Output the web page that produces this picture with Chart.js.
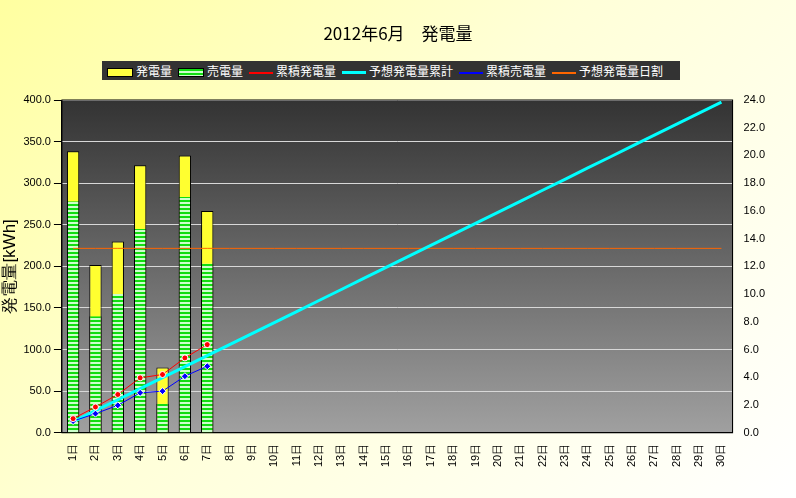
<!DOCTYPE html>
<html><head><meta charset="utf-8">
<script src="https://cdn.jsdelivr.net/npm/chart.js@4.4.0/dist/chart.umd.min.js"></script>
<style>
body{margin:0;width:796px;height:498px;overflow:hidden;font-family:"Noto Sans CJK JP",sans-serif;
 background:linear-gradient(135deg,#ffffa0 0%,#ffffd8 45%,#ffffff 100%);}
#wrap{position:absolute;left:0;top:0;width:796px;height:498px}
#title{position:absolute;top:20px;left:0;width:796px;text-align:center;font-size:17px;color:#000}
#legend{position:absolute;left:102px;top:61px;width:578px;height:19px;background:#333;color:#fff;font-size:12px;display:flex;align-items:center;gap:6px;padding-left:5px;box-sizing:border-box;white-space:nowrap}
#legend span.k{display:inline-block;vertical-align:middle;margin-right:3px}
</style></head><body>
<div id="wrap"><canvas id="c" width="796" height="498"></canvas></div>
<div id="title">2012年6月　発電量</div>
<div id="legend">
 <span><span class="k" style="width:24px;height:7px;background:#ffff40;border:1px solid #000"></span>発電量</span>
 <span><span class="k" style="width:24px;height:7px;background:repeating-linear-gradient(#11dd11 0 2px,#ccffcc 2px 4px);border:1px solid #000"></span>売電量</span>
 <span><span class="k" style="width:24px;height:2px;background:#f00;position:relative"></span>累積発電量</span>
 <span><span class="k" style="width:24px;height:3px;background:#00ffff"></span>予想発電量累計</span>
 <span><span class="k" style="width:24px;height:2px;background:#00f"></span>累積売電量</span>
 <span><span class="k" style="width:24px;height:2px;background:#ff6600"></span>予想発電量日割</span>
</div>
<script>
const days = Array.from({length:30},(_, i)=>(i+1)+"日");
const generated = [20.3,12.1,13.8,19.3,4.7,20.0,16.0];
const sold = [16.7,8.4,10.0,14.7,2.1,17.0,12.2];
const cumGenerated = [17,31,46,66,70,90,106];
const cumSold = [14,23,33,48,50,68,80];
const forecastCum = [13.2,26.5,39.7,53.0,66.2,79.5,92.7,106.0,119.2,132.5,145.7,159.0,172.2,185.5,198.7,212.0,225.2,238.5,251.7,265.0,278.2,291.5,304.7,318.0,331.2,344.5,357.7,371.0,384.2,397.5];
const forecastDaily = [13.3,13.3,13.3,13.3,13.3,13.3,13.3,13.3,13.3,13.3,13.3,13.3,13.3,13.3,13.3,13.3,13.3,13.3,13.3,13.3,13.3,13.3,13.3,13.3,13.3,13.3,13.3,13.3,13.3,13.3];

const pc=document.createElement("canvas");pc.width=4;pc.height=4;
const px=pc.getContext("2d");px.fillStyle="#11dd11";px.fillRect(0,0,4,2);px.fillStyle="#ccffcc";px.fillRect(0,2,4,2);
const stripes=document.getElementById("c").getContext("2d").createPattern(pc,"repeat");

const plotBg={id:"plotBg",beforeDraw(ch){const a=ch.chartArea,c=ch.ctx;
 const g=c.createLinearGradient(0,a.top,0,a.bottom);g.addColorStop(0,"#333333");g.addColorStop(1,"#a0a0a0");
 c.save();c.fillStyle=g;c.fillRect(a.left,a.top,a.right-a.left,a.bottom-a.top);c.restore();},
 afterDraw(ch){const a=ch.chartArea,c=ch.ctx;c.save();c.strokeStyle="#000";c.lineWidth=1;c.strokeRect(a.left,a.top,a.right-a.left,a.bottom-a.top);c.restore();}};

new Chart(document.getElementById("c"),{
 data:{labels:days,datasets:[
  {type:"line",data:cumGenerated,yAxisID:"y",borderColor:"#ff0000",borderWidth:1,pointRadius:3,pointBackgroundColor:"#ff0000",pointBorderColor:"#fff",pointBorderWidth:1,order:0},
  {type:"line",data:cumSold,yAxisID:"y",borderColor:"#0000ff",borderWidth:1,pointStyle:"rectRot",pointRadius:3.5,pointBackgroundColor:"#0000ff",pointBorderColor:"#fff",pointBorderWidth:1,order:0},
  {type:"line",data:forecastCum,yAxisID:"y",borderColor:"#00ffff",borderWidth:3,pointRadius:0,order:1},
  {type:"line",data:forecastDaily,yAxisID:"y2",borderColor:"#ff6600",borderWidth:1,pointRadius:0,order:1},
  {type:"bar",data:sold,yAxisID:"y2",backgroundColor:stripes,borderColor:"#000",borderWidth:{left:1,right:1,top:0,bottom:0},grouped:false,barPercentage:0.55,categoryPercentage:1,order:2},
  {type:"bar",data:generated,yAxisID:"y2",backgroundColor:"#ffff30",borderColor:"#000",borderWidth:1,grouped:false,barPercentage:0.55,categoryPercentage:1,order:3}
 ]},
 options:{responsive:false,animation:false,
  layout:{padding:{top:100,right:28,left:0,bottom:28}},
  plugins:{legend:{display:false},tooltip:{enabled:false}},
  scales:{
   x:{offset:true,grid:{display:false},border:{color:"#000"},ticks:{color:"#000",font:{size:11},maxRotation:90,minRotation:90,autoSkip:false}},
   y:{position:"left",min:0,max:400,border:{color:"#000"},grid:{color:"#d8d8d8",drawTicks:true,tickColor:"#000"},
      title:{display:true,text:"発電量[kWh]",color:"#000",font:{size:17},padding:0},
      ticks:{stepSize:50,color:"#000",font:{size:11},callback:v=>v.toFixed(1)}},
   y2:{position:"right",min:0,max:24,border:{color:"#000"},grid:{display:false},
      ticks:{stepSize:2,color:"#000",font:{size:11},callback:v=>v.toFixed(1)}}
  }},
 plugins:[plotBg]
});
</script></body></html>
